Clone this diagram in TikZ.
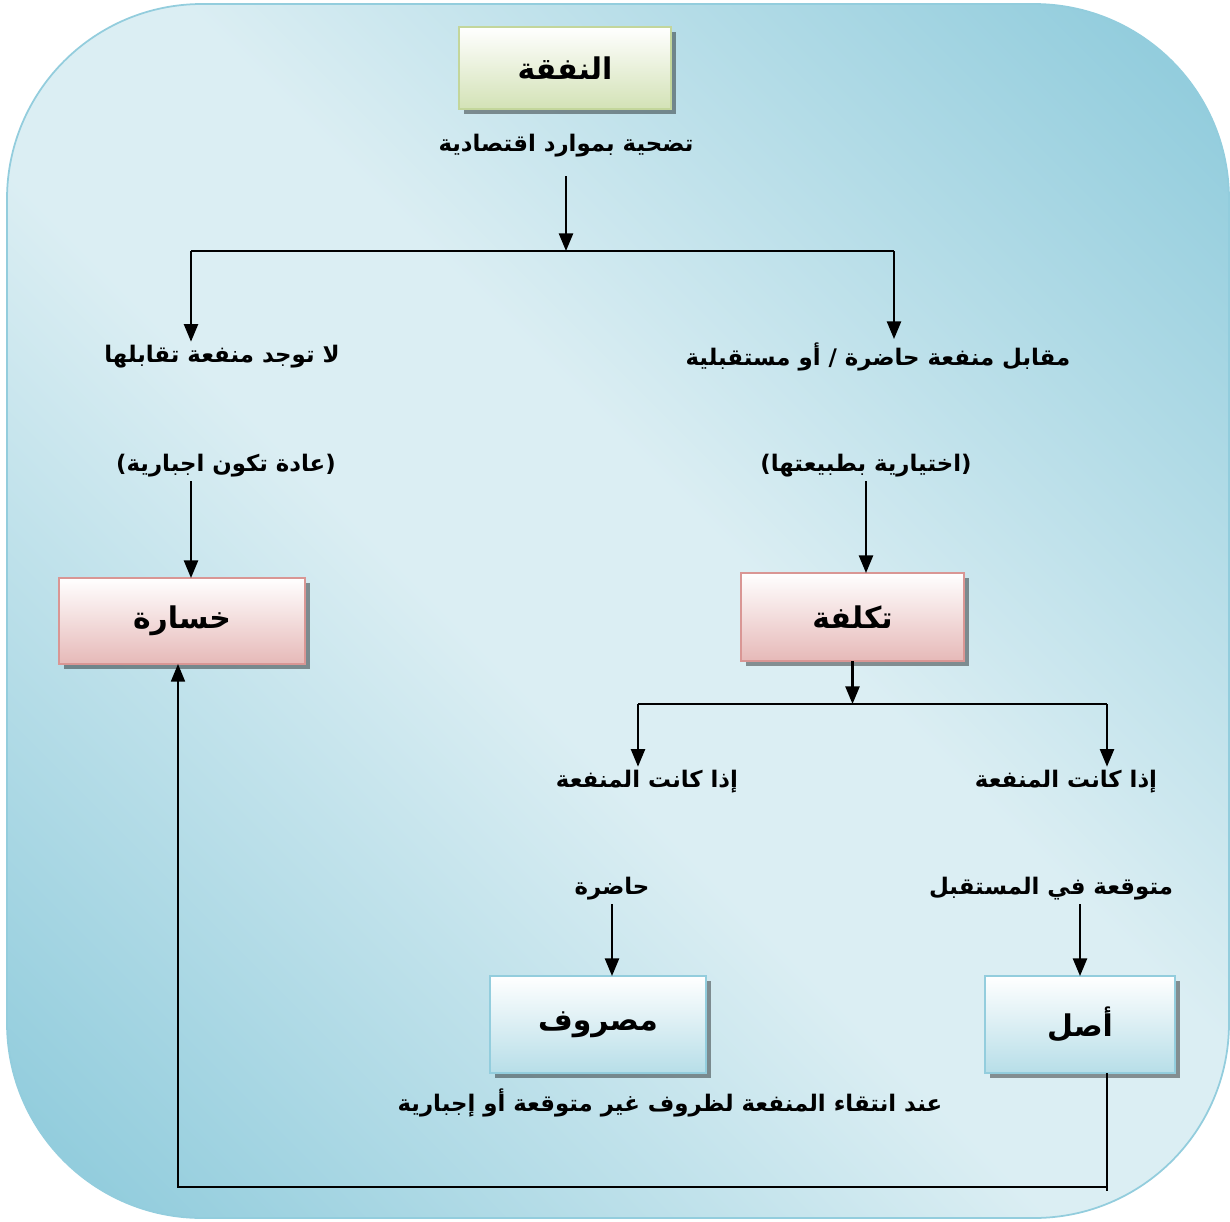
\documentclass[tikz,border=0pt]{standalone}
\usepackage{fontspec}
\usepackage{tikz}
\usetikzlibrary{positioning,calc,shadows,arrows.meta}
\newfontfamily\arabicfont[Script=Arabic]{DejaVu Sans}
\TeXXeTstate=1

\definecolor{bgdark}{HTML}{93CDDD}
\definecolor{bglight}{HTML}{DBEEF3}
\definecolor{greenfill}{HTML}{D3E2B6}
\definecolor{greenline}{HTML}{C3D69B}
\definecolor{pinkfill}{HTML}{E6B9B8}
\definecolor{pinkline}{HTML}{D99694}
\definecolor{bluefill}{HTML}{B7DEE8}
\definecolor{blueline}{HTML}{93CDDD}

\pgfdeclareverticalshading{backshade}{100bp}{color(0bp)=(bgdark); color(18bp)=(bgdark); color(45bp)=(bglight); color(55bp)=(bglight); color(82bp)=(bgdark); color(100bp)=(bgdark)}

\newcommand{\artext}[1]{{\arabicfont\bfseries\beginR #1\endR}}

\begin{document}
\begin{tikzpicture}

    \tikzstyle{boxbase}=[line width=1.5pt,outer sep=0pt,font=\fontsize{17}{20}\selectfont,drop shadow={shadow xshift=0.09cm,shadow yshift=-0.09cm,fill=black,opacity=0.4}]
    \tikzstyle{greenbox}=[boxbase,draw=greenline,top color=white,bottom color=greenfill]
    \tikzstyle{pinkbox}=[boxbase,draw=pinkline,top color=white,bottom color=pinkfill]
    \tikzstyle{bluebox}=[boxbase,draw=blueline,top color=white,bottom color=bluefill]
    \tikzstyle{notetext}=[inner sep=2pt,font=\fontsize{13}{16}\selectfont]
    \tikzstyle{feed}=[line width=1.2pt,-{Triangle[length=10pt,width=8pt]}]
    \tikzstyle{bus}=[line width=1.2pt]

\useasboundingbox (0,0) rectangle (24.6,-24.42);

% background panel
\path[shading=backshade,shading angle=-45,draw=bgdark,line width=1pt,rounded corners=3.9cm] (0.14,-0.08) rectangle (24.58,-24.36);

\node (spending) [greenbox,minimum width=4.24cm,minimum height=1.64cm] at (11.3,-1.36) {\artext{النفقة}};
\node (sacrifice) [notetext] at (11.32,-2.92) {\artext{تضحية بموارد اقتصادية}};

\node (noben) [notetext] at (4.44,-7.14) {\artext{لا توجد منفعة تقابلها}};
\node (withben) [notetext] at (17.56,-7.14) {\artext{مقابل منفعة حاضرة / أو مستقبلية}};
\node (forced) [notetext] at (4.52,-9.32) {\artext{(عادة تكون اجبارية)}};
\node (optional) [notetext] at (17.32,-9.32) {\artext{(اختيارية بطبيعتها)}};

\node (loss) [pinkbox,minimum width=4.92cm,minimum height=1.72cm] at (3.64,-12.42) {\artext{خسارة}};
\node (cost) [pinkbox,minimum width=4.46cm,minimum height=1.76cm] at (17.05,-12.34) {\artext{تكلفة}};

\node (ifleft) [notetext] at (12.94,-15.64) {\artext{إذا كانت المنفعة}};
\node (ifright) [notetext] at (21.32,-15.64) {\artext{إذا كانت المنفعة}};
\node (present) [notetext] at (12.24,-17.78) {\artext{حاضرة}};
\node (future) [notetext] at (21.02,-17.78) {\artext{متوقعة في المستقبل}};

\node (expense) [bluebox,minimum width=4.32cm,minimum height=1.94cm] at (11.96,-20.49) {\artext{مصروف}};
\node (asset) [bluebox,minimum width=3.8cm,minimum height=1.94cm] at (21.6,-20.49) {\artext{أصل}};
\node (vanish) [notetext] at (13.4,-22.06) {\artext{عند انتقاء المنفعة لظروف غير متوقعة أو إجبارية}};

\coordinate (busL) at (3.82,-5.02);
\coordinate (busR) at (17.88,-5.02);
\coordinate (splitL) at (12.76,-14.08);
\coordinate (splitR) at (22.14,-14.08);
\coordinate (loopR) at (22.14,-23.74);
\coordinate (loopL) at (3.56,-23.74);

%first split
\draw[feed] ([yshift=-0.3cm]sacrifice.south) -- (sacrifice |- busL);
\draw[bus] (busL) -- (busR);
\draw[feed] (busL) -- (busL |- noben.north);
\draw[feed] (busR) -- (busR |- withben.north);
\draw[feed] (busL |- forced.south) -- (busL |- loss.north);
\draw[feed] (optional) -- (optional |- cost.north);

%second split
\draw[feed] (cost) -- (cost |- splitL);
\draw[bus] (splitL) -- (splitR);
\draw[feed] (splitL) -- (splitL |- ifleft.north);
\draw[feed] (splitR) -- (splitR |- ifright.north);
\draw[feed] (present) -- (present |- expense.north);
\draw[feed] (asset |- future.south) -- (asset.north);

\draw[feed,line width=0.9pt] (splitR |- asset.south) -- ++(0,-2.36) (loopR) -- (loopL) -- (loopL |- loss.south);

\end{tikzpicture}
\end{document}
